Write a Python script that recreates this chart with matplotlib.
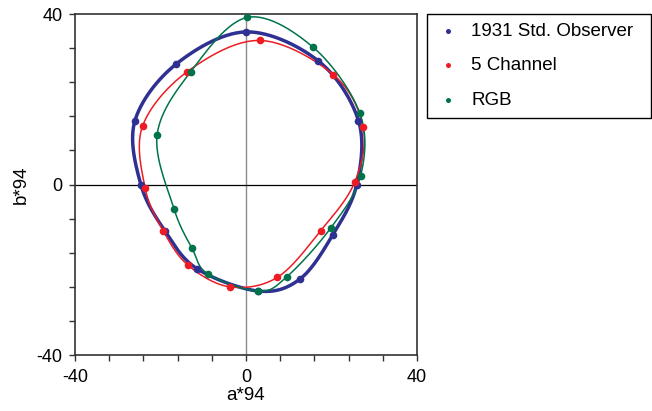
import numpy as np
import matplotlib.pyplot as plt
from matplotlib.lines import Line2D
from matplotlib.patches import Rectangle

plt.rcParams["font.family"] = ["Liberation Sans", "DejaVu Sans"]
plt.rcParams["axes.unicode_minus"] = False

# ─── données (a*94, b*94) ────────────────────────────────────────────────────
A_OBS = [0.0, -16.4, -26.0, -24.6, -18.9, -11.4, 2.9, 12.6, 20.3, 25.9, 26.3, 16.9]
B_OBS = [35.8, 28.2, 14.9, 0.0, -11.0, -19.8, -25.0, -22.2, -11.8, 0.0, 15.0, 29.0]

A_5CH = [3.2, -13.7, -24.2, -23.6, -19.4, -13.5, -3.8, 7.3, 17.5, 25.4, 27.4, 20.4]
B_5CH = [33.8, 26.5, 13.7, -0.8, -10.8, -19.0, -24.0, -21.8, -10.8, 0.5, 13.4, 25.8]

A_RGB = [0.3, -12.9, -20.8, -16.8, -12.6, -8.9, 2.9, 9.5, 19.9, 26.8, 26.6, 15.7]
B_RGB = [39.2, 26.5, 11.6, -5.8, -15.0, -21.0, -25.0, -21.7, -10.1, 2.0, 16.8, 32.2]

LABELS = ["1931 Std. Observer", "5 Channel", "RGB"]
COLORS = ["#2e3192", "#ed1c24", "#00734a"]
WIDTHS = [2.5, 1.1, 1.1]

W, H = 652, 411


def closed_spline(a, b, n=30):
    """Courbe fermée de Catmull-Rom passant par les points."""
    p = np.column_stack([a, b])
    m = len(p)
    t = np.linspace(0, 1, n, endpoint=False)[:, None]
    out = []
    for i in range(m):
        p0, p1, p2, p3 = p[i - 1], p[i], p[(i + 1) % m], p[(i + 2) % m]
        seg = 0.5 * ((2 * p1) + (-p0 + p2) * t
                     + (2 * p0 - 5 * p1 + 4 * p2 - p3) * t ** 2
                     + (-p0 + 3 * p1 - 3 * p2 + p3) * t ** 3)
        out.append(seg)
    out.append(p[:1])
    out = np.vstack(out)
    return out[:, 0], out[:, 1]


fig = plt.figure(figsize=(W / 100, H / 100), dpi=100)
ax = fig.add_axes([75 / W, 1 - 355 / H, 342 / W, 341 / H])

ax.axvline(0, color="#8c8c8c", lw=1.0, zorder=1)
ax.axhline(0, color="black", lw=0.9, zorder=1)

series = [(A_OBS, B_OBS), (A_5CH, B_5CH), (A_RGB, B_RGB)]
for (a, b), col, lw in zip(series, COLORS, WIDTHS):
    xs, ys = closed_spline(a, b)
    ax.plot(xs, ys, color=col, lw=lw, zorder=2, solid_capstyle="round")
    ax.plot(a, b, "o", color=col, ms=5.5, mec="none", zorder=3)

ax.set_xlim(-40, 40)
ax.set_ylim(-40, 40)
ax.set_xticks([-40, 0, 40])
ax.set_yticks([-40, 0, 40])
ax.set_xticks(np.arange(-40, 41, 8), minor=True)
ax.set_yticks(np.arange(-40, 41, 8), minor=True)
ax.tick_params(which="both", direction="out", length=4, width=1.0, color="#333333")
ax.tick_params(axis="x", which="major", labelsize=13, pad=6)
ax.tick_params(axis="y", which="major", labelsize=13, pad=5)
for s in ax.spines.values():
    s.set_linewidth(1.2)
    s.set_color("#333333")

ax.set_xlabel("a*94", fontsize=13.5, labelpad=1)
ax.set_ylabel("b*94", fontsize=13.5, labelpad=5)

# ─── légende dessinée à la main (cadre + puces + textes) ─────────────────────
fig.patches.append(Rectangle((427 / W, 1 - 118 / H), 224 / W, 104 / H,
                             transform=fig.transFigure, fill=False,
                             edgecolor="black", lw=1.0))
for i, (lab, col) in enumerate(zip(LABELS, COLORS)):
    yy = 1 - (31 + 34.5 * i) / H
    fig.lines.append(Line2D([448 / W], [yy], marker="o", ls="none", color=col,
                            ms=3.6, mec="none", transform=fig.transFigure))
    fig.text(471 / W, yy, lab, fontsize=13.5, va="center", ha="left")

fig.savefig("out.png", dpi=100)
